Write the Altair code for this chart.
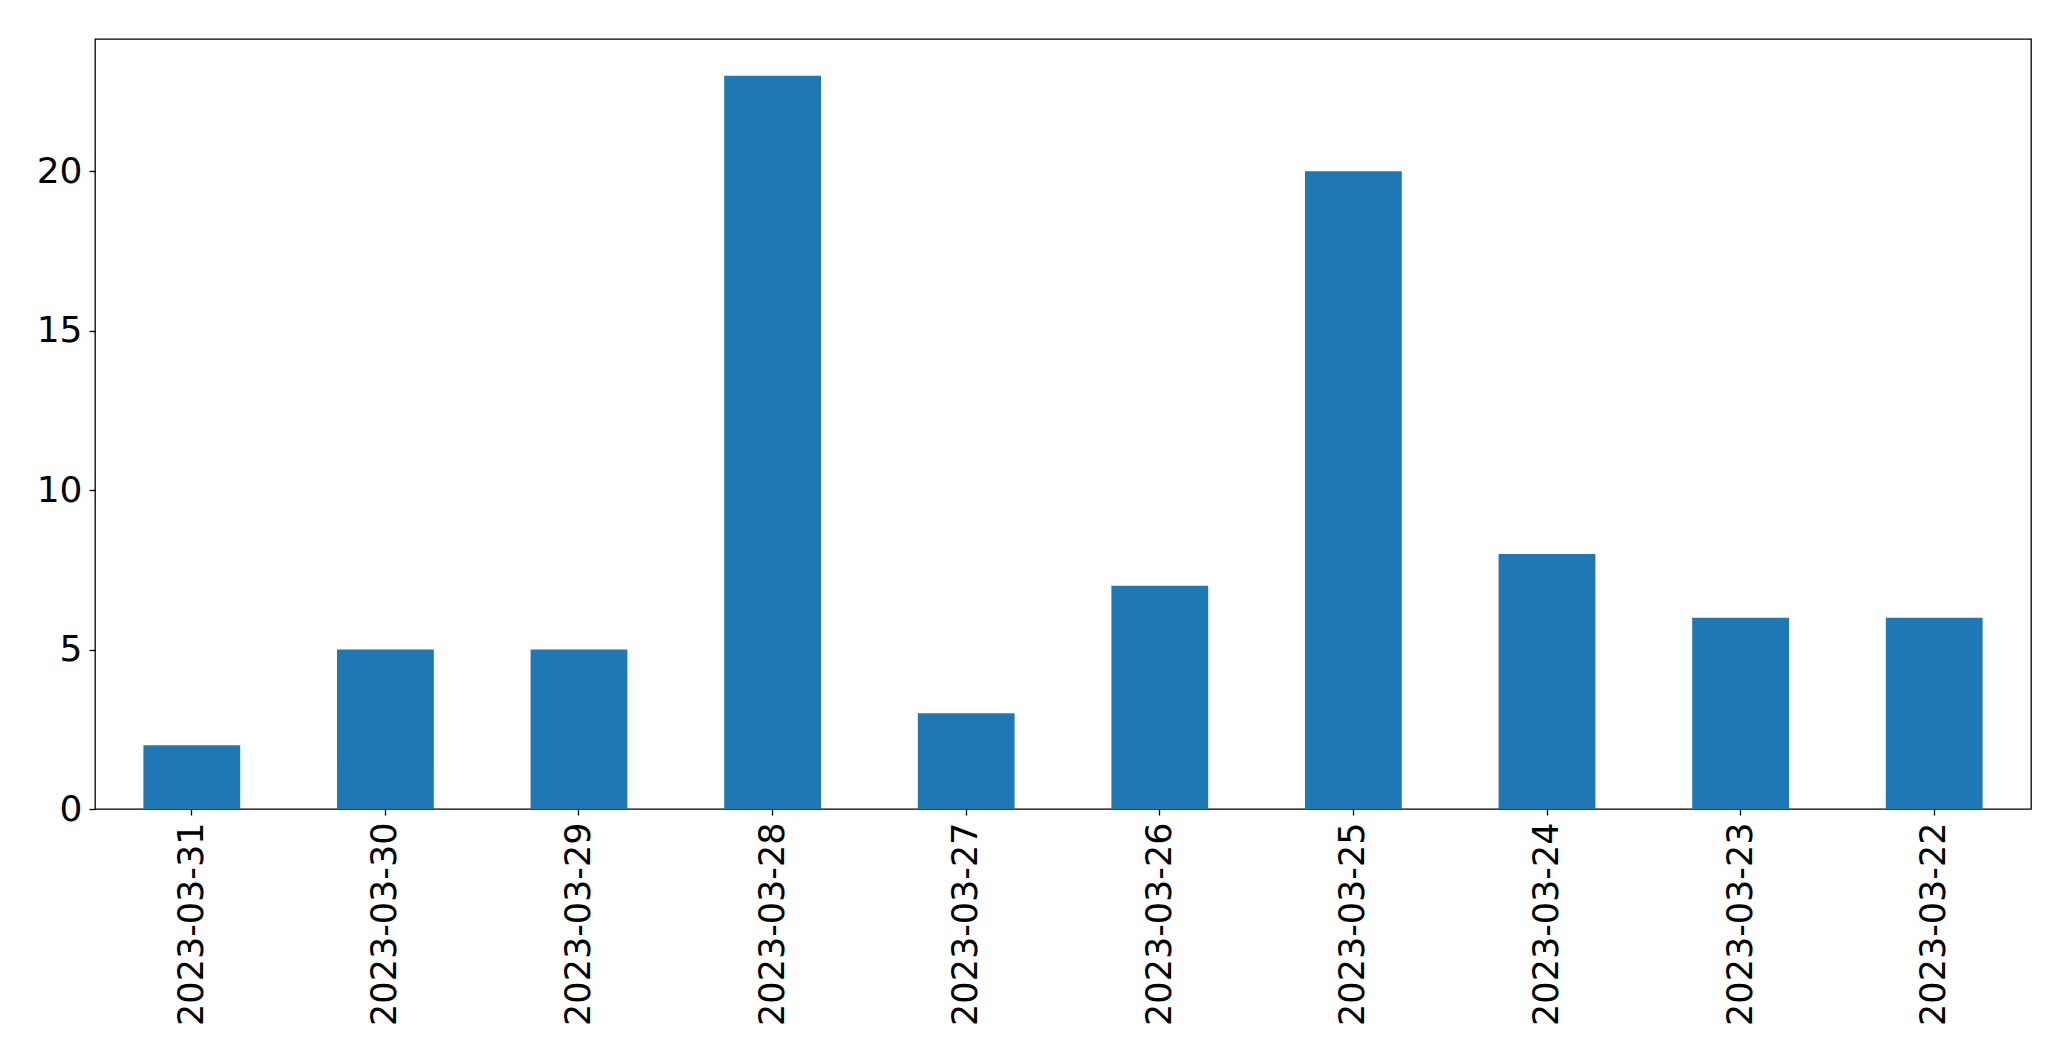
import altair as alt
import pandas as pd

dates = ["2023-03-31", "2023-03-30", "2023-03-29", "2023-03-28", "2023-03-27",
         "2023-03-26", "2023-03-25", "2023-03-24", "2023-03-23", "2023-03-22"]
counts = [2, 5, 5, 23, 3, 7, 20, 8, 6, 6]
y_ticks = [0, 5, 10, 15, 20]

df = pd.DataFrame({"date": dates, "count": counts})

chart = alt.Chart(df).mark_bar(color="#1f77b4").encode(
    x=alt.X("date:N", sort=dates, title=None,
            scale=alt.Scale(paddingInner=0.5, paddingOuter=0.25),
            axis=alt.Axis(labelAngle=270, labelAlign="right", labelBaseline="middle",
                          labelPadding=7, tickSize=6, tickWidth=1.3, tickColor="black",
                          domain=False, labelFont="DejaVu Sans", labelFontSize=35,
                          labelColor="black", labelLimit=0)),
    y=alt.Y("count:Q", title=None,
            scale=alt.Scale(domain=[0, 24.15], nice=False, zero=True),
            axis=alt.Axis(values=y_ticks, tickSize=6, tickWidth=1.3, tickColor="black",
                          domain=False, grid=False, labelPadding=7,
                          labelFont="DejaVu Sans", labelFontSize=36, labelColor="black")),
).properties(
    width=1936, height=770,
    autosize=alt.AutoSizeParams(type="none"),
    padding={"left": 87, "top": 31, "right": 30, "bottom": 240},
).configure_view(stroke="black", strokeWidth=1.3)

chart.save("out.html", embed_options={"renderer": "svg", "actions": False})
